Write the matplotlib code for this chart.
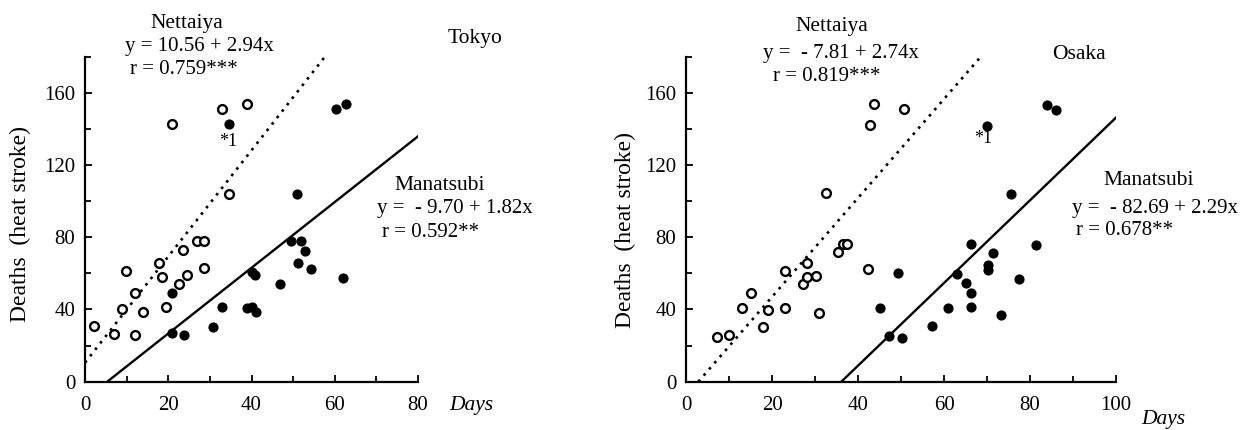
import matplotlib.pyplot as plt
from matplotlib.ticker import MultipleLocator

plt.rcParams['font.family'] = ['Liberation Serif', 'DejaVu Serif']

# Tokyo (days, deaths)
tokyo_nettaiya_x = [2.2, 7.0, 9.0, 9.8, 11.9, 11.9, 14.0, 17.8, 18.6, 19.4, 20.8,
                    22.6, 23.6, 24.6, 27.0, 28.6, 28.6, 33.0, 39.0, 34.6]
tokyo_nettaiya_y = [30.8, 26.7, 40.5, 61.3, 49.4, 25.8, 38.7, 65.9, 58.0, 41.4, 143.0,
                    54.3, 72.7, 58.9, 77.9, 77.9, 63.0, 151.0, 153.8, 104.0]
tokyo_manatsubi_x = [20.8, 20.8, 23.8, 30.8, 33.0, 34.6, 39.0, 40.0, 41.0, 40.8, 40.0,
                     46.8, 49.6, 52.0, 51.0, 51.2, 52.8, 54.2, 60.2, 62.8, 62.0]
tokyo_manatsubi_y = [49.2, 27.0, 25.8, 30.4, 41.4, 142.7, 41.0, 41.4, 38.7, 59.0, 61.0,
                     54.0, 77.7, 77.7, 104.0, 66.0, 72.4, 62.6, 151.0, 153.8, 57.5]

# Osaka
osaka_nettaiya_x = [7.1, 10.1, 12.9, 15.0, 18.0, 19.1, 23.0, 23.0, 28.1, 27.1, 28.1,
                    30.2, 31.0, 32.5, 35.4, 36.4, 37.4, 42.4, 42.8, 43.7, 50.8]
osaka_nettaiya_y = [24.8, 25.7, 40.8, 48.9, 30.3, 39.8, 61.2, 40.8, 65.8, 54.1, 58.1,
                    58.7, 38.1, 104.6, 71.8, 76.4, 76.4, 62.7, 142.3, 153.8, 151.0]
osaka_manatsubi_x = [45.1, 47.3, 50.2, 49.4, 57.3, 61.0, 62.9, 65.1, 66.3, 66.2, 66.3,
                     70.1, 70.3, 70.3, 71.3, 73.2, 75.6, 77.5, 81.4, 83.9, 86.0]
osaka_manatsubi_y = [40.6, 25.3, 24.2, 60.4, 30.9, 40.6, 59.5, 54.6, 49.1, 41.4, 76.3,
                     141.9, 64.8, 61.7, 71.2, 37.0, 104.0, 56.8, 75.8, 153.4, 150.7]

# regression lines (intercept, slope)
tokyo_nettaiya_fit = (10.56, 2.94)
tokyo_manatsubi_fit = (-9.70, 1.82)
osaka_nettaiya_fit = (-7.81, 2.74)
osaka_manatsubi_fit = (-82.69, 2.29)

YMAX = 180
FS = 15.5
FS_EQ = 15


def fit_line(ax, fit, xmax, **kw):
    a, b = fit
    x0 = max(0, -a / b)
    x1 = min(xmax, (YMAX - a) / b)
    ax.plot([x0, x1], [a + b * x0, a + b * x1], color='black', **kw)


def setup_axes(ax, xmax):
    ax.set_xlim(0, xmax)
    ax.set_ylim(0, YMAX)
    for s in ['top', 'right']:
        ax.spines[s].set_visible(False)
    for s in ['left', 'bottom']:
        ax.spines[s].set_linewidth(1.6)
    ax.xaxis.set_major_locator(MultipleLocator(20))
    ax.xaxis.set_minor_locator(MultipleLocator(10))
    ax.yaxis.set_major_locator(MultipleLocator(40))
    ax.yaxis.set_minor_locator(MultipleLocator(20))
    ax.tick_params(which='both', direction='in', width=1.3, labelsize=15)
    ax.tick_params(axis='x', which='major', length=5, pad=10)
    ax.tick_params(axis='y', which='major', length=5, pad=7)
    ax.tick_params(which='minor', length=4)
    ax.set_facecolor('none')


fig = plt.figure(figsize=(12.56, 4.3), dpi=100)
ax1 = fig.add_axes([0.0677, 0.1123, 0.2651, 0.7558])
ax2 = fig.add_axes([0.5462, 0.1123, 0.3424, 0.7558])

# Tokyo panel
setup_axes(ax1, 80)
ax1.scatter(tokyo_nettaiya_x, tokyo_nettaiya_y, s=40, facecolors='white',
            edgecolors='black', linewidths=1.7, zorder=3)
ax1.scatter(tokyo_manatsubi_x, tokyo_manatsubi_y, s=40, color='black', zorder=3)
fit_line(ax1, tokyo_nettaiya_fit, 80, lw=1.9, linestyle=(0, (1, 2.1)))
fit_line(ax1, tokyo_manatsubi_fit, 80, lw=1.7)
ax1.text(24.4, 198.5, 'Nettaiya', fontsize=FS, ha='center', va='center')
ax1.text(9.6, 185.5, 'y = 10.56 + 2.94x', fontsize=FS_EQ, ha='left', va='center')
ax1.text(10.8, 172.8, 'r = 0.759***', fontsize=FS_EQ, ha='left', va='center')
ax1.text(93.6, 190, 'Tokyo', fontsize=FS, ha='center', va='center')
ax1.text(74.4, 108.7, 'Manatsubi', fontsize=FS, ha='left', va='center')
ax1.text(70.1, 96, 'y =  - 9.70 + 1.82x', fontsize=FS_EQ, ha='left', va='center')
ax1.text(71.3, 82.7, 'r = 0.592**', fontsize=FS_EQ, ha='left', va='center')
ax1.text(34.5, 133, '*1', fontsize=13, ha='center', va='center')
ax1.text(87.6, -13, 'Days', fontsize=FS, style='italic', ha='left', va='center')
ax1.text(-15.6, 87.5, 'Deaths  (heat stroke)', fontsize=17, rotation=90,
         ha='center', va='center')

# Osaka panel
setup_axes(ax2, 100)
ax2.scatter(osaka_nettaiya_x, osaka_nettaiya_y, s=40, facecolors='white',
            edgecolors='black', linewidths=1.7, zorder=3)
ax2.scatter(osaka_manatsubi_x, osaka_manatsubi_y, s=40, color='black', zorder=3)
fit_line(ax2, osaka_nettaiya_fit, 100, lw=1.9, linestyle=(0, (1, 2.1)))
fit_line(ax2, osaka_manatsubi_fit, 100, lw=1.7)
ax2.text(33.8, 197, 'Nettaiya', fontsize=FS, ha='center', va='center')
ax2.text(17.9, 181.6, 'y =  - 7.81 + 2.74x', fontsize=FS_EQ, ha='left', va='center')
ax2.text(20.3, 168.9, 'r = 0.819***', fontsize=FS_EQ, ha='left', va='center')
ax2.text(91.3, 181.4, 'Osaka', fontsize=FS, ha='center', va='center')
ax2.text(97.1, 111.4, 'Manatsubi', fontsize=FS, ha='left', va='center')
ax2.text(89.7, 96, 'y =  - 82.69 + 2.29x', fontsize=FS_EQ, ha='left', va='center')
ax2.text(90.6, 84.0, 'r = 0.678**', fontsize=FS_EQ, ha='left', va='center')
ax2.text(69.2, 134.6, '*1', fontsize=13, ha='center', va='center')
ax2.text(105.8, -21, 'Days', fontsize=FS, style='italic', ha='left', va='center')
ax2.text(-14, 84, 'Deaths  (heat stroke)', fontsize=17, rotation=90,
         ha='center', va='center')

fig.savefig('out.png', dpi=100, facecolor='white')
